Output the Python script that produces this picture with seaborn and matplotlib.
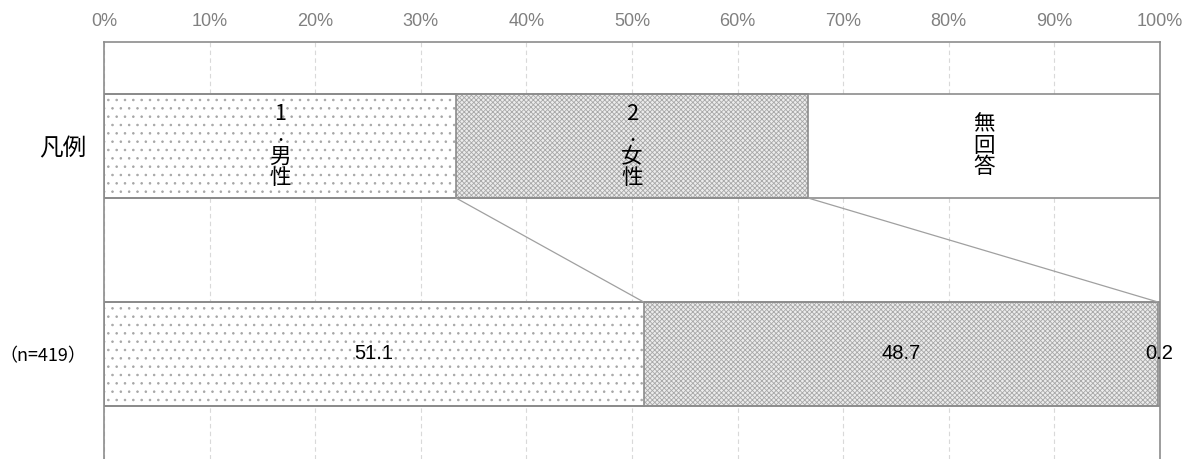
import matplotlib
matplotlib.use('Agg')
import matplotlib.pyplot as plt
import seaborn as sns
import pandas as pd
import numpy as np

rows = ['凡例', '（n=419）']
categories = ['1\n.\n男\n性', '2\n.\n女\n性', '無\n回\n答']
legend_vals = [100 / 3, 100 / 3, 100 / 3]
data_vals = [51.1, 48.7, 0.2]
tick_values = list(range(0, 101, 10))
tick_labels = [f'{v}%' for v in tick_values]

sns.set_theme(style='white')
plt.rcParams['font.family'] = ['Noto Sans CJK JP', 'DejaVu Sans']
plt.rcParams['hatch.linewidth'] = 0.6

fig = plt.figure(figsize=(11.93, 4.59), dpi=100)
ax = fig.add_axes([104 / 1193, 0, 1056 / 1193, 417 / 459])

vals = np.array([legend_vals, data_vals])
cum = np.cumsum(vals, axis=1)

edge = '#8c8c8c'
styles = [
    dict(facecolor='white', hatch='..', hatchcolor='#a6a6a6'),
    dict(facecolor='#ececec', hatch='xxxxxxx', hatchcolor='#a8a8a8'),
    dict(facecolor='white', hatch='', hatchcolor='white'),
]

# filled / hatched segments (widest first so the narrower ones sit on top)
for k in reversed(range(3)):
    df = pd.DataFrame({'row': rows, 'cum': cum[:, k]})
    n_before = len(ax.patches)
    sns.barplot(data=df, x='cum', y='row', orient='h', color='white',
                saturation=1, width=0.5, errorbar=None, ax=ax)
    for p in ax.patches[n_before:]:
        p.set_facecolor(styles[k]['facecolor'])
        p.set_edgecolor(styles[k]['hatchcolor'])
        p.set_linewidth(0)
        p.set_hatch(styles[k]['hatch'] or None)

# outlines
for k in reversed(range(3)):
    df = pd.DataFrame({'row': rows, 'cum': cum[:, k]})
    n_before = len(ax.patches)
    sns.barplot(data=df, x='cum', y='row', orient='h', color='white',
                saturation=1, width=0.5, errorbar=None, ax=ax)
    for p in ax.patches[n_before:]:
        p.set_facecolor('none')
        p.set_edgecolor(edge)
        p.set_linewidth(1.2)

# connecting lines
for k in range(2):
    ax.plot([cum[0, k], cum[1, k]], [0.25, 0.75], color='#a0a0a0', lw=0.9,
            zorder=1)

# legend labels
for k in range(3):
    xc = cum[0, k] - vals[0, k] / 2
    ax.text(xc, 0.0, categories[k], ha='center', va='center', fontsize=15.5,
            linespacing=0.95, color='black')

# data labels
for k in range(3):
    xc = cum[1, k] - vals[1, k] / 2
    ax.text(xc, 1.0, f'{data_vals[k]:.1f}', ha='center', va='center',
            fontsize=14.5, color='black',
            family=['Liberation Sans', 'DejaVu Sans'])

ax.set_xlim(0, 100)
ax.set_ylim(1.505, -0.5)
ax.set_xticks(tick_values)
ax.set_xticklabels(tick_labels)
ax.xaxis.tick_top()
ax.set_xlabel('')
ax.set_ylabel('')
ax.tick_params(axis='x', length=0, pad=9, labelsize=13, labelcolor='#808080')
ax.tick_params(axis='y', length=0, pad=13, labelcolor='black')
for lab in ax.get_xticklabels():
    lab.set_family(['Liberation Sans', 'DejaVu Sans'])
ylabs = ax.get_yticklabels()
ylabs[0].set_fontsize(17)
ylabs[1].set_fontsize(13)

ax.xaxis.grid(True, linestyle=(0, (4, 3)), color='#d9d9d9', linewidth=0.8)
ax.yaxis.grid(False)
ax.set_axisbelow(True)

for s in ['top', 'left', 'right']:
    ax.spines[s].set_visible(True)
    ax.spines[s].set_color(edge)
    ax.spines[s].set_linewidth(1.2)
ax.spines['bottom'].set_visible(False)

fig.savefig('out.png', dpi=100)
